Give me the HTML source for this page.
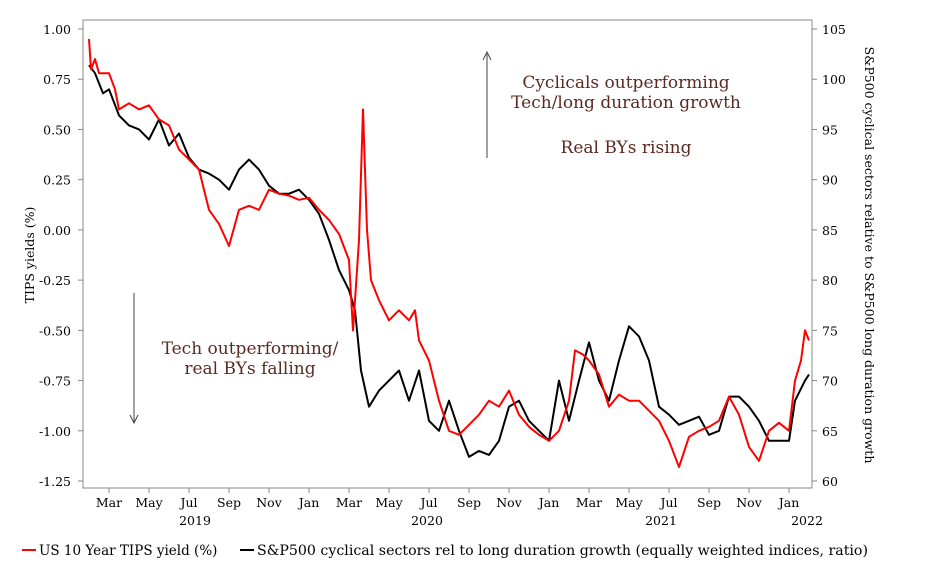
<!DOCTYPE html>
<html><head><meta charset="utf-8"><style>
body{margin:0;background:#fff;}
svg{display:block;font-family:"DejaVu Serif","Liberation Serif",serif;}
</style></head><body>
<svg id="c" width="950" height="570"></svg>
<script>
const redT=[1.0,1.1,1.3,1.5,2.0,2.3,2.5,3.0,3.5,4.0,4.5,5.0,5.5,6.0,6.5,7.0,7.5,8.0,8.5,9.0,9.5,10,10.5,11,11.5,12,12.5,13,13.5,14,14.2,14.5,14.7,14.9,15.1,15.5,16,16.5,17,17.3,17.5,18,18.5,19,19.5,20,20.5,21,21.5,22,22.5,23,23.5,24,24.5,25,25.3,25.7,26,26.5,27,27.5,28,28.5,29,29.5,30,30.5,31,31.5,32,32.5,33,33.5,34,34.5,35,35.5,36,36.3,36.6,36.8,37.0];
const redV=[0.95,0.80,0.85,0.78,0.78,0.70,0.60,0.63,0.60,0.62,0.55,0.52,0.40,0.35,0.30,0.10,0.03,-0.08,0.10,0.12,0.10,0.20,0.18,0.17,0.15,0.16,0.10,0.05,-0.02,-0.15,-0.50,-0.05,0.60,0.00,-0.25,-0.35,-0.45,-0.40,-0.45,-0.40,-0.55,-0.65,-0.85,-1.00,-1.02,-0.97,-0.92,-0.85,-0.88,-0.80,-0.92,-0.98,-1.02,-1.05,-1.00,-0.85,-0.60,-0.62,-0.65,-0.72,-0.88,-0.82,-0.85,-0.85,-0.90,-0.95,-1.05,-1.18,-1.03,-1.00,-0.98,-0.95,-0.83,-0.92,-1.08,-1.15,-1.00,-0.96,-1.00,-0.75,-0.65,-0.50,-0.55];
const blkT=[1.0,1.3,1.7,2.0,2.5,3.0,3.5,4.0,4.5,5.0,5.5,6.0,6.5,7.0,7.5,8.0,8.5,9.0,9.5,10,10.5,11,11.5,12,12.5,13,13.5,14,14.3,14.6,15,15.5,16,16.5,17,17.5,18,18.5,19,19.5,20,20.5,21,21.5,22,22.5,23,23.5,24,24.5,25,25.5,26,26.5,27,27.5,28,28.5,29,29.5,30,30.5,31,31.5,32,32.5,33,33.5,34,34.5,35,35.5,36,36.3,36.8,37.0];
const blkV=[101.4,100.6,98.6,99,96.4,95.4,95,94,96,93.4,94.6,92.2,91,90.6,90,89,91,92,91,89.4,88.6,88.6,89,88,86.6,84,81,79,77,71,67.4,69,70,71,68,71,66,65,68,65,62.4,63,62.6,64,67.4,68,66,65,64,70,66,70,73.8,70,68,72,75.4,74.4,72,67.4,66.6,65.6,66,66.4,64.6,65,68.4,68.4,67.4,66,64,64,64,68,70,70.6];
const months=["Mar","May","Jul","Sep","Nov","Jan","Mar","May","Jul","Sep","Nov","Jan","Mar","May","Jul","Sep","Nov","Jan"];
const monthIdx=[2,4,6,8,10,12,14,16,18,20,22,24,26,28,30,32,34,36];
const years=["2019","2020","2021","2022"];
const yearIdx=[6.3,17.9,29.6,36.9];
const leftTicks=[1.00,0.75,0.50,0.25,0.00,-0.25,-0.50,-0.75,-1.00,-1.25];
const rightTicks=[105,100,95,90,85,80,75,70,65,60];

const NS="http://www.w3.org/2000/svg";
const svg=document.getElementById('c');
const L=83,R=812,T=20,B=488;
const x=t=>69+20*t;
const yL=v=>29+(1-v)*200.9;
const yR=v=>29+(105-v)*10.045;
function mk(tag,a,txt){const e=document.createElementNS(NS,tag);for(const k in a)e.setAttribute(k,a[k]);if(txt!==undefined)e.textContent=txt;svg.appendChild(e);return e;}

let e=mk('rect',{x:L,y:T,width:R-L,height:B-T,fill:'none',stroke:'#888','stroke-width':1});



leftTicks.forEach(v=>{
 let tk=mk('line',{x1:L-5,x2:L,y1:yL(v),y2:yL(v),stroke:'#888'});
 
 
 let t=mk('text',{x:L-12,y:yL(v)+5,'text-anchor':'end','font-size':12.5,fill:'#000'},v.toFixed(2));
 
 
});
rightTicks.forEach(v=>{
 let tk=mk('line',{x1:R,x2:R+5,y1:yR(v),y2:yR(v),stroke:'#888'});
 
 
 let t=mk('text',{x:R+10,y:yR(v)+5,'font-size':12.5,fill:'#000'},String(v));
 
 
});
months.forEach((m,i)=>{
 let tk=mk('line',{x1:x(monthIdx[i]),x2:x(monthIdx[i]),y1:B,y2:B+5,stroke:'#888'});
 
 
 let t=mk('text',{x:x(monthIdx[i]),y:507,'text-anchor':'middle','font-size':12.5},m);
 
 
});
years.forEach((yv,i)=>{
 let t=mk('text',{x:x(yearIdx[i]),y:525,'text-anchor':'middle','font-size':12.5},yv);
 
 
});

let pb='';blkT.forEach((t,i)=>{pb+=(i?'L':'M')+x(t).toFixed(1)+','+yR(blkV[i]).toFixed(1);});
let lb=mk('path',{d:pb,fill:'none',stroke:'#000','stroke-width':2,'stroke-linejoin':'round'});


let pr='';redT.forEach((t,i)=>{pr+=(i?'L':'M')+x(t).toFixed(1)+','+yL(redV[i]).toFixed(1);});
let lr=mk('path',{d:pr,fill:'none',stroke:'#f00','stroke-width':2,'stroke-linejoin':'round'});



e=mk('text',{transform:'translate(34,255) rotate(-90)','text-anchor':'middle','font-size':12.5},'TIPS yields (%)');


e=mk('text',{transform:'translate(865,255) rotate(90)','text-anchor':'middle','font-size':12.5},'S&P500 cyclical sectors relative to S&P500 long duration growth');



const ac='#5b2a22';
[['Cyclicals outperforming',626,88,'annotation-cyclicals'],['Tech/long duration growth',626,108,'annotation-tech-long'],['Real BYs rising',626,153,'annotation-real-rising'],['Tech outperforming/',250,354,'annotation-tech-out'],['real BYs falling',250,374,'annotation-real-falling']].forEach(a=>{
 let t=mk('text',{x:a[1],y:a[2],'text-anchor':'middle','font-size':17,fill:ac},a[0]);
 
 
});
e=mk('line',{x1:487,x2:487,y1:158,y2:54,stroke:'#444'});


mk('path',{d:'M483,60 L487,52 L491,60',fill:'none',stroke:'#444'});
e=mk('line',{x1:134,x2:134,y1:293,y2:422,stroke:'#444'});


mk('path',{d:'M130,415 L134,423 L138,415',fill:'none',stroke:'#444'});

e=mk('line',{x1:22,x2:36,y1:550,y2:550,stroke:'#f00','stroke-width':2});


e=mk('text',{x:39,y:555,'font-size':13.5},'US 10 Year TIPS yield (%)');


e=mk('line',{x1:240,x2:254,y1:550,y2:550,stroke:'#000','stroke-width':2});


e=mk('text',{x:257,y:555,'font-size':13.5,textLength:611,lengthAdjust:'spacingAndGlyphs'},'S&P500 cyclical sectors rel to long duration growth (equally weighted indices, ratio)');


</script>
</body></html>
